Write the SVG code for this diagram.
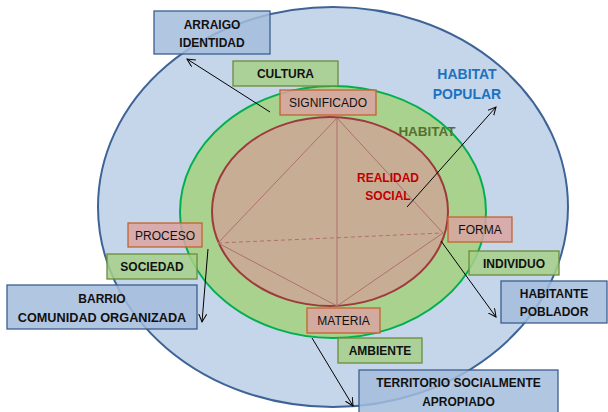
<svg xmlns="http://www.w3.org/2000/svg" width="608" height="412" viewBox="0 0 608 412">
<defs>
<marker id="arr" markerWidth="10" markerHeight="10" refX="8" refY="4" orient="auto" markerUnits="userSpaceOnUse">
<path d="M0,0 L8,4 L0,8" fill="none" stroke="#000" stroke-width="1"/>
</marker>
<style>
text{font-family:"Liberation Sans",Arial,sans-serif;text-anchor:middle;fill:#111}
.b{font-weight:bold;font-size:12px}
.r{font-size:12px}
.blue rect{fill:#a3bcdc;fill-opacity:.85;stroke:#3b5f8f;stroke-width:1.3}
.green rect{fill:#a6d08a;fill-opacity:.85;stroke:#6b8c3a;stroke-width:1.3}
.pink rect{fill:#daa3a1;fill-opacity:.85;stroke:#c0652e;stroke-width:1.3}
.con line{stroke:#000;stroke-width:1;marker-end:url(#arr)}
.tri line{stroke:#b06f6c;stroke-width:1}
</style>
</defs>
<rect width="608" height="412" fill="#fff"/>
<g id="habitat-popular">
<ellipse cx="333" cy="207" rx="235" ry="200" fill="#c6d6ea" stroke="#3e6496" stroke-width="2"/>
<text x="467" y="79" style="font-weight:bold;font-size:14px;fill:#1a72c0">HABITAT</text>
<text x="467" y="99" style="font-weight:bold;font-size:14px;fill:#1a72c0">POPULAR</text>
</g>
<g id="habitat">
<ellipse cx="333" cy="212" rx="153" ry="126" fill="#aad28f" stroke="#00b050" stroke-width="2"/>
<text x="427" y="136" style="font-weight:bold;font-size:13.5px;fill:#56702c">HABITAT</text>
</g>
<g id="realidad-social">
<ellipse cx="330" cy="211.5" rx="118" ry="94.5" fill="#c8ad95" stroke="#9e3a3a" stroke-width="2"/>
<g class="tri">
<line x1="337" y1="118" x2="218" y2="243"/>
<line x1="337" y1="118" x2="443" y2="233"/>
<line x1="337" y1="118" x2="337" y2="306"/>
<line x1="218" y1="243" x2="337" y2="306"/>
<line x1="443" y1="233" x2="337" y2="306"/>
<line x1="218" y1="243" x2="443" y2="233" stroke-dasharray="4,3"/>
</g>
<text x="388" y="182" style="font-weight:bold;font-size:12px;fill:#c00000">REALIDAD</text>
<text x="388" y="200" style="font-weight:bold;font-size:12px;fill:#c00000">SOCIAL</text>
</g>
<g id="connectors" class="con">
<line x1="270" y1="112" x2="187" y2="59"/>
<line x1="407" y1="207" x2="496" y2="107"/>
<line x1="208" y1="249" x2="202" y2="322"/>
<line x1="441" y1="241" x2="496" y2="317"/>
<line x1="312" y1="338" x2="353" y2="406"/>
</g>
<g id="arraigo" class="blue"><rect x="154" y="11" width="116" height="43"/><text class="b" x="212" y="29">ARRAIGO</text><text class="b" x="212" y="47">IDENTIDAD</text></g>
<g id="cultura" class="green"><rect x="233" y="61" width="105" height="25"/><text class="b" x="285.5" y="78">CULTURA</text></g>
<g id="significado" class="pink"><rect x="280" y="90" width="96" height="25"/><text class="r" x="328" y="107">SIGNIFICADO</text></g>
<g id="proceso" class="pink"><rect x="128" y="223" width="74" height="24"/><text class="r" x="165" y="239.5">PROCESO</text></g>
<g id="sociedad" class="green"><rect x="107" y="254" width="90" height="25"/><text class="b" x="152" y="271">SOCIEDAD</text></g>
<g id="barrio" class="blue"><rect x="7" y="285" width="190" height="44"/><text class="b" x="102" y="303">BARRIO</text><text class="b" x="102" y="322" style="font-size:12.7px">COMUNIDAD ORGANIZADA</text></g>
<g id="forma" class="pink"><rect x="448" y="217" width="64" height="25"/><text class="r" x="480" y="234">FORMA</text></g>
<g id="individuo" class="green"><rect x="469" y="251" width="90" height="24"/><text class="b" x="514" y="267.5">INDIVIDUO</text></g>
<g id="habitante" class="blue"><rect x="501" y="281" width="106" height="42"/><text class="b" x="554" y="298">HABITANTE</text><text class="b" x="554" y="316">POBLADOR</text></g>
<g id="materia" class="pink"><rect x="307" y="308" width="73" height="25"/><text class="r" x="343.5" y="325">MATERIA</text></g>
<g id="ambiente" class="green"><rect x="338" y="338" width="84" height="25"/><text class="b" x="380" y="355">AMBIENTE</text></g>
<g id="territorio" class="blue"><rect x="359" y="370" width="199" height="44"/><text class="b" x="458.5" y="387">TERRITORIO SOCIALMENTE</text><text class="b" x="458.5" y="406">APROPIADO</text></g>
</svg>
